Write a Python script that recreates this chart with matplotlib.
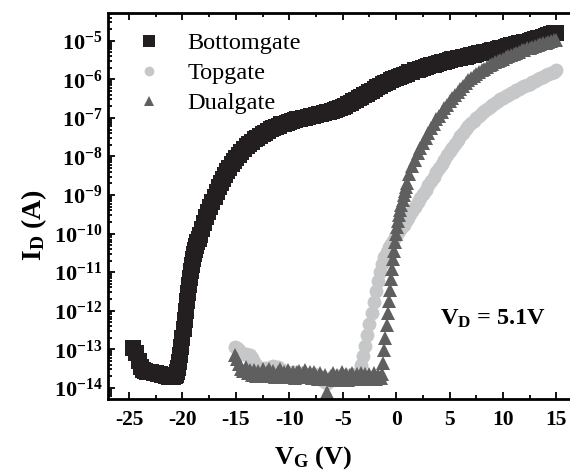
import numpy as np
import matplotlib

matplotlib.use("Agg")
import matplotlib.pyplot as plt
from matplotlib.ticker import FixedLocator, FuncFormatter, LogLocator, NullFormatter

plt.rcParams["font.family"] = ["Liberation Serif", "DejaVu Serif"]
plt.rcParams["mathtext.fontset"] = "custom"
plt.rcParams["mathtext.rm"] = "Liberation Serif"
plt.rcParams["mathtext.bf"] = "Liberation Serif:bold"
plt.rcParams["mathtext.it"] = "Liberation Serif:italic"

# gate voltage (V) and log10 of drain current (A)
bottom_vg = [
    -24.6, -24.35, -24.1, -23.9, -23.7, -23.5, -23.3, -23.1, -22.9, -22.7,
    -22.5, -22.3, -22.1, -21.9, -21.7, -21.5, -21.3, -21.1, -20.9, -20.7,
    -20.6, -20.5, -20.4, -20.3, -20.2, -20.1,
    -20.0, -19.9, -19.8, -19.7, -19.6, -19.5, -19.4, -19.3, -19.2, -19.1,
    -19.0, -18.9, -18.8, -18.7, -18.6, -18.5, -18.4, -18.2, -18.0, -17.8,
    -17.6, -17.4, -17.2, -17.0, -16.8, -16.6, -16.4, -16.2, -16.0, -15.8,
    -15.6, -15.4, -15.2,
    -15.0, -14.75, -14.5, -14.25, -14.0, -13.75, -13.5, -13.25, -13.0, -12.75,
    -12.5, -12.25, -12.0, -11.75, -11.5, -11.25, -11.0, -10.75, -10.5, -10.25,
    -10.0, -9.75, -9.5, -9.25, -9.0, -8.75, -8.5, -8.25, -8.0, -7.75,
    -7.5, -7.25, -7.0, -6.75, -6.5, -6.25, -6.0, -5.75, -5.5, -5.25,
    -5.0, -4.75, -4.5, -4.25, -4.0, -3.75, -3.5, -3.25, -3.0, -2.75,
    -2.5, -2.25, -2.0, -1.75, -1.5, -1.25, -1.0, -0.75, -0.5, -0.25,
    0.0, 0.25, 0.5, 0.75, 1.0, 1.25, 1.5, 1.75, 2.0, 2.25,
    2.5, 2.75, 3.0, 3.25, 3.5, 3.75, 4.0, 4.25, 4.5, 4.75,
    5.0, 5.25, 5.5, 5.75, 6.0, 6.25, 6.5, 6.75, 7.0, 7.25,
    7.5, 7.75, 8.0, 8.25, 8.5, 8.75, 9.0, 9.25, 9.5, 9.75,
    10.0, 10.25, 10.5, 10.75, 11.0, 11.25, 11.5, 11.75, 12.0, 12.25,
    12.5, 12.75, 13.0, 13.25, 13.5, 13.75, 14.0, 14.25, 14.5, 14.75,
    15.0,
]
bottom_logid = [
    -12.97, -13.10, -13.30, -13.45, -13.53, -13.57, -13.58, -13.60, -13.60, -13.61,
    -13.62, -13.63, -13.64, -13.66, -13.68, -13.70, -13.72, -13.73, -13.73, -13.70,
    -13.66, -13.60, -13.48, -13.32, -13.14, -12.94,
    -12.72, -12.48, -12.24, -12.00, -11.76, -11.54, -11.33, -11.14, -10.97, -10.81,
    -10.67, -10.54, -10.43, -10.32, -10.22, -10.13, -10.04, -9.88, -9.73, -9.58,
    -9.44, -9.30, -9.17, -9.04, -8.92, -8.80, -8.69, -8.58, -8.48, -8.38,
    -8.29, -8.20, -8.12,
    -8.05, -7.96, -7.88, -7.81, -7.74, -7.68, -7.62, -7.56, -7.51, -7.46,
    -7.42, -7.38, -7.34, -7.30, -7.27, -7.23, -7.20, -7.17, -7.15, -7.12,
    -7.10, -7.08, -7.06, -7.04, -7.02, -7.00, -6.99, -6.97, -6.96, -6.94,
    -6.93, -6.91, -6.90, -6.88, -6.86, -6.84, -6.82, -6.80, -6.77, -6.74,
    -6.71, -6.68, -6.64, -6.61, -6.57, -6.53, -6.49, -6.45, -6.41, -6.37,
    -6.33, -6.29, -6.25, -6.21, -6.17, -6.13, -6.10, -6.06, -6.03, -6.00,
    -5.97, -5.94, -5.91, -5.88, -5.85, -5.82, -5.80, -5.77, -5.75, -5.72,
    -5.70, -5.68, -5.66, -5.64, -5.62, -5.60, -5.58, -5.56, -5.54, -5.52,
    -5.50, -5.48, -5.47, -5.45, -5.44, -5.42, -5.41, -5.39, -5.38, -5.36,
    -5.35, -5.33, -5.32, -5.30, -5.28, -5.26, -5.25, -5.23, -5.21, -5.19,
    -5.18, -5.16, -5.14, -5.12, -5.11, -5.09, -5.07, -5.05, -5.04, -5.02,
    -5.00, -4.98, -4.96, -4.94, -4.92, -4.90, -4.88, -4.85, -4.83, -4.81,
    -4.79,
]

top_vg = [
    -15.1, -14.9, -14.7, -14.5, -14.3, -14.1, -13.9, -13.7, -13.5, -13.3,
    -13.1, -12.9, -12.7, -12.5, -12.3, -12.1, -11.9, -11.7, -11.5, -11.3,
    -11.1, -10.9, -10.7, -10.5, -10.3, -10.1, -9.9, -9.7, -9.5, -9.3,
    -9.1, -8.9, -8.7, -8.5, -8.3, -8.1, -7.9, -7.7, -7.5, -7.3,
    -7.1, -6.9, -6.7, -6.5, -6.3, -6.1, -5.9, -5.7, -5.5, -5.3,
    -5.1, -4.9, -4.7, -4.5, -4.3, -4.1, -3.9, -3.7, -3.5, -3.3,
    -3.1, -2.9, -2.7, -2.5, -2.3, -2.1, -1.9, -1.7, -1.5, -1.3,
    -1.1, -0.9, -0.7, -0.5, -0.3, -0.1, 0.1, 0.3, 0.5, 0.7,
    0.9, 1.1, 1.3, 1.5, 1.75, 2.0, 2.25, 2.5, 2.75, 3.0,
    3.25, 3.5, 3.75, 4.0, 4.25, 4.5, 4.75, 5.0, 5.25, 5.5,
    5.75, 6.0, 6.25, 6.5, 6.75, 7.0, 7.25, 7.5, 7.75, 8.0,
    8.25, 8.5, 8.75, 9.0, 9.25, 9.5, 9.75, 10.0, 10.25, 10.5,
    10.75, 11.0, 11.25, 11.5, 11.75, 12.0, 12.25, 12.5, 12.75, 13.0,
    13.25, 13.5, 13.75, 14.0, 14.25, 14.5, 14.75, 15.0,
]
top_logid = [
    -12.95, -12.97, -13.03, -13.10, -13.13, -13.12, -13.14, -13.15, -13.22, -13.32,
    -13.42, -13.47, -13.50, -13.52, -13.49, -13.54, -13.50, -13.46, -13.44, -13.49,
    -13.46, -13.52, -13.55, -13.57, -13.60, -13.58, -13.62, -13.60, -13.63, -13.61,
    -13.64, -13.62, -13.65, -13.63, -13.66, -13.64, -13.67, -13.65, -13.68, -13.70,
    -13.74, -13.80, -13.86, -13.88, -13.82, -13.74, -13.70, -13.72, -13.69, -13.71,
    -13.68, -13.70, -13.67, -13.69, -13.66, -13.68, -13.66, -13.67, -13.60, -13.42,
    -13.18, -12.92, -12.63, -12.34, -12.05, -11.77, -11.50, -11.24, -11.00, -10.79,
    -10.61, -10.47, -10.36, -10.26, -10.18, -10.10, -10.02, -9.94, -9.86, -9.77,
    -9.68, -9.59, -9.50, -9.41, -9.30, -9.19, -9.08, -8.97, -8.86, -8.75,
    -8.63, -8.52, -8.41, -8.30, -8.19, -8.08, -7.97, -7.87, -7.77, -7.67,
    -7.57, -7.48, -7.39, -7.30, -7.22, -7.14, -7.07, -7.00, -6.94, -6.88,
    -6.82, -6.77, -6.72, -6.67, -6.62, -6.57, -6.52, -6.48, -6.44, -6.40,
    -6.36, -6.32, -6.28, -6.25, -6.21, -6.18, -6.14, -6.11, -6.07, -6.04,
    -6.00, -5.97, -5.93, -5.90, -5.86, -5.83, -5.80, -5.77,
]

dual_vg = [
    -15.1, -14.9, -14.7, -14.5, -14.3, -14.1, -13.9, -13.7, -13.5, -13.3,
    -13.1, -12.9, -12.7, -12.5, -12.3, -12.1, -11.9, -11.7, -11.5, -11.3,
    -11.1, -10.9, -10.7, -10.5, -10.3, -10.1, -9.9, -9.7, -9.5, -9.3,
    -9.1, -8.9, -8.7, -8.5, -8.3, -8.1, -7.9, -7.7, -7.5, -7.3,
    -7.1, -6.9, -6.7, -6.5, -6.3, -6.1, -5.9, -5.7, -5.5, -5.3,
    -5.1, -4.9, -4.7, -4.5, -4.3, -4.1, -3.9, -3.7, -3.5, -3.3,
    -3.1, -2.9, -2.7, -2.5, -2.3, -2.1, -1.9, -1.7, -1.5, -1.4,
    -1.3, -1.2, -1.1, -1.0, -0.9, -0.8, -0.7, -0.6, -0.5, -0.4,
    -0.3, -0.2, -0.1, 0.0, 0.1, 0.2, 0.3, 0.4, 0.5, 0.6,
    0.7, 0.8, 0.9, 1.0, 1.25, 1.5, 1.75, 2.0, 2.25, 2.5,
    2.75, 3.0, 3.25, 3.5, 3.75, 4.0, 4.25, 4.5, 4.75, 5.0,
    5.25, 5.5, 5.75, 6.0, 6.25, 6.5, 6.75, 7.0, 7.25, 7.5,
    7.75, 8.0, 8.25, 8.5, 8.75, 9.0, 9.25, 9.5, 9.75, 10.0,
    10.25, 10.5, 10.75, 11.0, 11.25, 11.5, 11.75, 12.0, 12.25, 12.5,
    12.75, 13.0, 13.25, 13.5, 13.75, 14.0, 14.25, 14.5, 14.75, 15.0,
]
dual_logid = [
    -13.15, -13.25, -13.38, -13.50, -13.56, -13.47, -13.62, -13.53, -13.66, -13.55,
    -13.69, -13.56, -13.66, -13.52, -13.70, -13.58, -13.50, -13.68, -13.56, -13.72,
    -13.58, -13.52, -13.70, -13.60, -13.73, -13.55, -13.68, -13.58, -13.74, -13.60,
    -13.56, -13.71, -13.62, -13.53, -13.72, -13.60, -13.75, -13.58, -13.70, -13.77,
    -13.61, -13.73, -13.66, -14.10, -13.78, -13.70, -13.62, -13.80, -13.66, -13.78,
    -13.60, -13.75, -13.64, -13.79, -13.68, -13.62, -13.77, -13.65, -13.74, -13.61,
    -13.76, -13.64, -13.77, -13.63, -13.74, -13.62, -13.76, -13.66, -13.75, -13.74,
    -13.65, -13.35, -13.03, -12.70, -12.38, -12.06, -11.75, -11.46, -11.18, -10.92,
    -10.67, -10.44, -10.22, -10.02, -9.84, -9.67, -9.52, -9.38, -9.25, -9.12,
    -9.00, -8.89, -8.78, -8.68, -8.46, -8.26, -8.09, -7.92, -7.78, -7.64,
    -7.51, -7.38, -7.26, -7.15, -7.04, -6.94, -6.84, -6.75, -6.66, -6.57,
    -6.48, -6.40, -6.32, -6.24, -6.17, -6.10, -6.03, -5.97, -5.91, -5.86,
    -5.81, -5.76, -5.72, -5.68, -5.64, -5.60, -5.56, -5.53, -5.49, -5.46,
    -5.43, -5.40, -5.37, -5.34, -5.31, -5.28, -5.25, -5.23, -5.20, -5.18,
    -5.15, -5.13, -5.11, -5.09, -5.07, -5.05, -5.03, -5.01, -4.99, -4.97,
]

x_ticks = [-25, -20, -15, -10, -5, 0, 5, 10, 15]
y_ticks = [1e-14, 1e-13, 1e-12, 1e-11, 1e-10, 1e-9, 1e-8, 1e-7, 1e-6, 1e-5]

fig = plt.figure(figsize=(5.7, 4.73), dpi=100)
ax = fig.add_axes([0.1895, 0.1564, 0.8095, 0.8161])

ax.plot(bottom_vg, 10.0 ** np.array(bottom_logid), ls="none", marker="s",
        ms=11.5, mew=0, color="#231f20", label="Bottomgate")
ax.plot(top_vg, 10.0 ** np.array(top_logid), ls="none", marker="o",
        ms=10, mew=0, color="#c6c7c8", label="Topgate")
ax.plot(dual_vg, 10.0 ** np.array(dual_logid), ls="none", marker="^",
        ms=10, mew=0, color="#5f5f5f", label="Dualgate")

ax.set_yscale("log")
ax.set_xlim(-26.97, 16.22)
ax.set_ylim(10 ** -14.29, 10 ** -4.28)

ax.xaxis.set_major_locator(FixedLocator(x_ticks))
ax.xaxis.set_minor_locator(FixedLocator(np.arange(-27.5, 16.5, 2.5)))
ax.yaxis.set_major_locator(FixedLocator(y_ticks))
ax.yaxis.set_minor_locator(LogLocator(base=10, subs=np.arange(2, 10), numticks=20))
ax.yaxis.set_minor_formatter(NullFormatter())
ax.yaxis.set_major_formatter(FuncFormatter(
    lambda v, _: r"$\mathbf{10^{%d}}$" % int(round(np.log10(v)))))
ax.xaxis.set_major_formatter(FuncFormatter(lambda v, _: "%d" % v))

ax.tick_params(which="both", direction="in", top=True, right=False, width=1.3)
ax.tick_params(which="major", length=5)
ax.tick_params(which="minor", length=3)
ax.tick_params(axis="x", labelsize=15.5, pad=8)
ax.tick_params(axis="y", labelsize=16, pad=4)
for lab in ax.get_xticklabels():
    lab.set_fontweight("bold")

for side in ["left", "bottom", "top"]:
    ax.spines[side].set_linewidth(2)
ax.spines["right"].set_visible(False)

ax.set_xlabel(r"$\mathbf{V_G}$ (V)", fontsize=19, fontweight="bold")
ax.xaxis.set_label_coords(0.445, -0.118)
ax.set_ylabel(r"$\mathbf{I_D}$ (A)", fontsize=20, fontweight="bold")
ax.yaxis.set_label_coords(-0.128, 0.45)

ax.text(0.719, 0.192, r"$\mathbf{V_D}$ = 5.1V", transform=ax.transAxes,
        fontsize=17.5, fontweight="bold", va="baseline", ha="left")

ax.legend(loc="upper left", bbox_to_anchor=(0.066, 0.95), frameon=False,
          fontsize=17.5, handlelength=0.9, handletextpad=1.1, borderpad=0,
          borderaxespad=0, labelspacing=0.33, markerscale=0.7)

fig.savefig("out.png", dpi=100)
